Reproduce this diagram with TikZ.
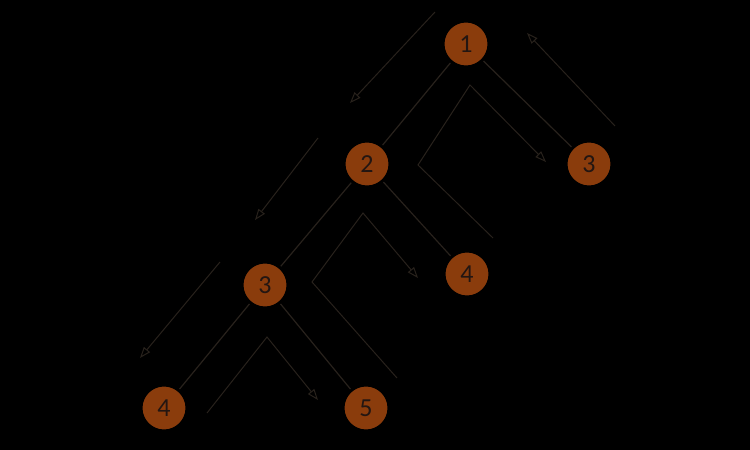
\documentclass[tikz,border=0pt]{standalone}
\usepackage{fontspec}
\setmainfont{Carlito}
\usetikzlibrary{arrows.meta}
\definecolor{nodefill}{RGB}{138,60,12}
\definecolor{txt}{RGB}{35,22,18}
\definecolor{ln}{RGB}{40,34,28}
\begin{document}
\begin{tikzpicture}[x=1pt,y=-1pt,
  vert/.style={circle,draw=black,line width=3pt,fill=nodefill,minimum size=46pt,inner sep=0pt,text=txt,font=\fontsize{26}{26}\selectfont},
  edge/.style={draw=ln,line width=1.2pt},
  trav/.style={draw=ln,line width=1pt,-{Triangle[open,length=11pt,width=8pt]}},
  travr/.style={draw=ln,line width=1pt,{Triangle[open,length=11pt,width=8pt]}-}]
\fill[black] (0,0) rectangle (750,450);
\useasboundingbox (0,0) rectangle (750,450);
\node[vert] (n1) at (466,44) {1};
\node[vert] (n2) at (367,164) {2};
\node[vert] (n3) at (589,164) {3};
\node[vert] (n3b) at (265,285) {3};
\node[vert] (n4) at (467,274) {4};
\node[vert] (n4b) at (164,408) {4};
\node[vert] (n5) at (366,408) {5};
\draw[edge] (n1) -- (n2);
\draw[edge] (n1) -- (n3);
\draw[edge] (n2) -- (n3b);
\draw[edge] (n2) -- (n4);
\draw[edge] (n3b) -- (n4b);
\draw[edge] (n3b) -- (n5);
\coordinate (a1s) at (435,12); \coordinate (a1e) at (350,103);
\coordinate (a2s) at (527,33); \coordinate (a2e) at (615,126);
\coordinate (c1a) at (493,238); \coordinate (c1b) at (418,165); \coordinate (c1c) at (470,85); \coordinate (c1d) at (546,162);
\coordinate (a3s) at (318,138); \coordinate (a3e) at (255,220);
\coordinate (c2a) at (397,378); \coordinate (c2b) at (312,282); \coordinate (c2c) at (363,213); \coordinate (c2d) at (418,278);
\coordinate (a4s) at (220,262); \coordinate (a4e) at (140,358);
\coordinate (c3a) at (207,413); \coordinate (c3b) at (267,337); \coordinate (c3c) at (318,400);
\draw[trav] (a1s) -- (a1e);
\draw[travr] (a2s) -- (a2e);
\draw[trav] (c1a) -- (c1b) -- (c1c) -- (c1d);
\draw[trav] (a3s) -- (a3e);
\draw[trav] (c2a) -- (c2b) -- (c2c) -- (c2d);
\draw[trav] (a4s) -- (a4e);
\draw[trav] (c3a) -- (c3b) -- (c3c);
\end{tikzpicture}
\end{document}
